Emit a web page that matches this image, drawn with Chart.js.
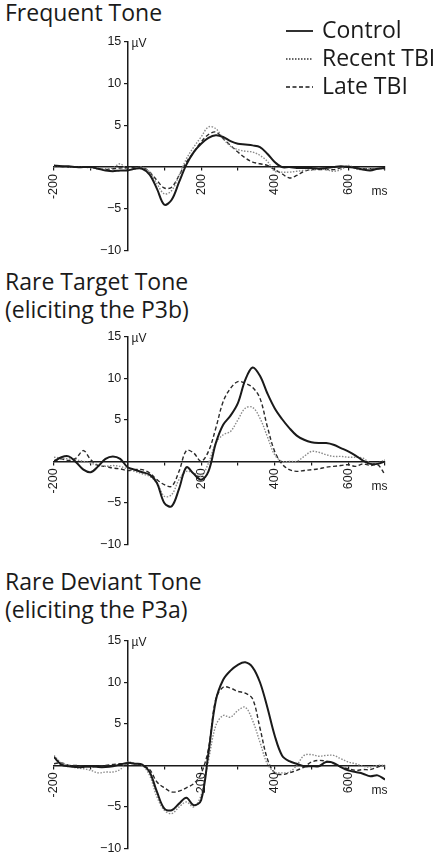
<!DOCTYPE html>
<html>
<head>
<meta charset="utf-8">
<script src="https://cdn.jsdelivr.net/npm/chart.js@4.4.1/dist/chart.umd.min.js"></script>
<style>
  html, body { margin: 0; padding: 0; background: #fff; }
  body { width: 439px; height: 859px; position: relative; overflow: hidden; font-family: "Open Sans", sans-serif; color: #1a1a1a; }
  .title { position: absolute; left: 5px; font-size: 23px; line-height: 28px; white-space: nowrap; }
  canvas { position: absolute; left: 0; }
  .legend { position: absolute; left: 286px; top: 15px; z-index: 2; font-size: 23px; line-height: 28px; }
  .legend div { display: flex; align-items: center; height: 28px; white-space: nowrap; }
  .legend svg { margin-right: 9px; position: relative; top: 2px; }
</style>
</head>
<body>
<div class="title" style="top:-2px">Frequent Tone</div>
<div class="title" style="top:267px">Rare Target Tone<br>(eliciting the P3b)</div>
<div class="title" style="top:567px">Rare Deviant Tone<br>(eliciting the P3a)</div>

<div class="legend">
  <div><svg width="27" height="4"><line x1="0" y1="2" x2="27" y2="2" stroke="#1a1a1a" stroke-width="1.8"/></svg>Control</div>
  <div><svg width="27" height="4"><line x1="0" y1="2" x2="27" y2="2" stroke="#333" stroke-width="1.3" stroke-dasharray="1.5 1.5"/></svg>Recent TBI</div>
  <div><svg width="27" height="4"><line x1="0" y1="2" x2="27" y2="2" stroke="#1a1a1a" stroke-width="1.4" stroke-dasharray="4 2.5"/></svg>Late TBI</div>
</div>

<canvas id="freq" width="439" height="240" style="top:30px"></canvas>
<canvas id="target" width="439" height="230" style="top:325px"></canvas>
<canvas id="deviant" width="439" height="230" style="top:629px"></canvas>

<script>
// time points (ms) shared by every curve
const times = [-200, -180, -160, -140, -120, -100, -80, -60, -40, -20,
  0, 20, 40, 60, 80, 100, 120, 140, 160, 180,
  200, 220, 240, 260, 280, 300, 320, 340, 360, 380,
  400, 420, 440, 460, 480, 500, 520, 540, 560, 580,
  600, 620, 640, 660, 680, 700];

const xTickLabels = [-200, 200, 400, 600];
const yTickLabels = [15, 10, 5, -5, -10];

// Frequent Tone (µV)
const freqControl = [0.2, 0.1, 0.1, 0, 0, 0, -0.2, -0.4, -0.5, -0.4,
  -0.4, -0.2, -0.2, -0.9, -2.6, -4.5, -3.9, -1.8, 0.3, 1.8,
  2.8, 3.5, 3.8, 3.6, 3.1, 2.8, 2.7, 2.6, 2.4, 1.6,
  0.6, 0, 0, -0.1, -0.1, -0.1, -0.2, -0.1, 0, 0.1,
  0, -0.1, -0.3, -0.4, -0.2, -0.1];
const freqRecent = [0.1, 0.1, 0, 0, 0, -0.1, -0.2, -0.2, -0.1, 0.4,
  -0.3, -0.2, 0, -0.6, -2.0, -3.2, -2.8, -1.0, 1.0, 2.4,
  3.6, 4.8, 4.6, 3.4, 2.5, 2.1, 1.9, 1.8, 1.4, 0.7,
  -0.5, -0.6, -0.6, -0.5, -0.4, -0.3, -0.2, -0.3, -0.5, -0.3,
  0.2, -0.2, -0.3, -0.2, -0.2, -0.2];
const freqLate = [0.2, 0.1, 0, 0, 0, 0, -0.2, -0.3, -0.2, -0.1,
  -0.1, 0, 0, -0.6, -1.6, -2.5, -2.4, -1.0, 0.6, 1.8,
  3.0, 3.9, 4.2, 3.4, 2.6, 1.8, 1.1, 0.6, 0.4, 0.2,
  -0.3, -0.8, -1.3, -1.0, -0.5, -0.3, -0.3, -0.3, -0.3, -0.1,
  0.1, -0.1, -0.2, -0.2, -0.2, -0.1];

// Rare Target Tone (µV)
const targetControl = [0, 0.5, 0.6, -0.1, -1.0, -1.3, -0.6, 0.3, 0.6, 0.3,
  -0.7, -1.0, -1.3, -1.6, -2.6, -5.0, -5.4, -3.3, -0.7, -1.5,
  -2.2, -1.2, 2.2, 4.4, 5.5, 7.0, 9.8, 11.3, 10.3, 8.2,
  6.4, 5.1, 4.0, 3.1, 2.6, 2.3, 2.2, 2.2, 2.0, 1.6,
  1.2, 0.7, 0.1, -0.3, -0.3, 0];
const targetRecent = [0.5, 0.4, 0.3, 0.2, 0, -0.2, -0.5, -0.6, -0.5, -0.6,
  -0.9, -1.2, -1.5, -1.8, -2.6, -4.2, -4.0, -2.2, -1.2, -1.4,
  -1.8, -0.2, 2.2, 3.2, 3.6, 5.0, 6.4, 6.5, 5.2, 3.0,
  0.8, 0, 0, 0, 0.6, 1.2, 1.1, 0.8, 0.6, 0.6,
  0.5, 0.5, 0.4, -0.2, -0.2, 0.2];
const targetLate = [0.1, 0.3, 0.1, 0.4, 1.3, 0.2, -0.5, -0.6, -0.8, -0.9,
  -1.1, -1.0, -1.0, -1.4, -2.2, -2.8, -3.0, -1.2, 1.3, 1.0,
  0, 1.2, 4.0, 7.2, 8.8, 9.6, 9.4, 8.9, 7.6, 4.2,
  1.2, -0.3, -1.0, -1.2, -1.1, -1.0, -0.9, -0.7, -0.6, -0.5,
  -0.4, -0.6, -0.3, -0.5, -0.4, -1.6];

// Rare Deviant Tone (µV)
const deviantControl = [1.0, 0.1, -0.1, -0.2, -0.2, -0.1, -0.2, -0.2, -0.1, 0.1,
  0.3, 0.2, 0.1, -0.8, -3.2, -5.2, -5.4, -4.6, -3.9, -4.8,
  -4.2, 1.5, 7.8, 10.3, 11.4, 12.1, 12.4, 11.8, 10.0, 7.0,
  3.6, 1.2, 0.5, 0.2, -0.1, -0.1, -0.1, 0.4, 0.3, -0.2,
  -0.6, -0.8, -1.0, -1.3, -1.2, -1.7];
const deviantRecent = [1.2, 0.3, 0, -0.3, -0.4, -0.6, -0.9, -0.8, -0.8, -0.5,
  0.4, 0.2, 0, -1.2, -3.8, -5.4, -5.8, -5.0, -4.4, -5.0,
  -3.6, 0.6, 4.8, 6.0, 5.8, 6.6, 7.0, 5.4, 2.8, 0.2,
  -0.8, -0.9, -0.8, 0, 1.2, 1.3, 1.1, 1.2, 1.2, 0.8,
  0.4, 0.2, -0.1, -0.2, 0, 0];
const deviantLate = [0.2, 0.3, 0, 0, -0.1, -0.2, -0.1, 0, 0.1, 0.2,
  0.2, 0.2, 0, -0.5, -2.0, -2.7, -3.2, -3.1, -2.7, -2.2,
  -1.0, 2.0, 8.0, 9.4, 9.3, 8.9, 8.7, 8.0, 4.5, 0.8,
  -0.9, -1.1, -0.9, -0.6, -0.2, 0.4, 0.6, 0.5, 0.2, -0.2,
  -0.4, -0.6, -0.5, -0.5, -0.2, 0];

const ink = '#1a1a1a';
const tickFont = { family: '"Liberation Sans", Arial, sans-serif', size: 12.5 };

const toPoints = vals => times.map((t, i) => ({ x: t, y: vals[i] }));

// µV / ms unit labels sitting on the axes
const unitLabels = {
  id: 'unitLabels',
  afterDraw(chart) {
    const { ctx, scales: { x, y } } = chart;
    ctx.save();
    ctx.fillStyle = ink;
    ctx.font = '12px "Liberation Sans", Arial, sans-serif';
    ctx.textBaseline = 'middle';
    ctx.textAlign = 'left';
    ctx.fillText('\u00b5V', x.getPixelForValue(0) + 4, y.getPixelForValue(15) + 2);
    ctx.textAlign = 'center';
    ctx.fillText('ms', x.getPixelForValue(685), y.getPixelForValue(0) + 25);
    ctx.restore();
  }
};

const makeChart = (id, control, recent, late, pad) => {
  const ctx = document.getElementById(id).getContext('2d');
  return new Chart(ctx, {
    type: 'line',
    data: {
      datasets: [
        { label: 'Control', data: toPoints(control), borderColor: ink, borderWidth: 2, tension: 0.35 },
        { label: 'Recent TBI', data: toPoints(recent), borderColor: '#8a8a8a', borderWidth: 1.4, borderDash: [1.5, 1.5], tension: 0.35 },
        { label: 'Late TBI', data: toPoints(late), borderColor: '#2a2a2a', borderWidth: 1.4, borderDash: [4, 2.5], tension: 0.35 }
      ]
    },
    options: {
      responsive: false,
      animation: false,
      events: [],
      layout: { padding: pad },
      elements: { point: { radius: 0 } },
      plugins: { legend: { display: false }, tooltip: { enabled: false } },
      scales: {
        x: {
          type: 'linear', min: -200, max: 700,
          position: { y: 0 },
          border: { display: true, color: ink, width: 1.5 },
          grid: { drawOnChartArea: false, drawTicks: true, tickLength: 3, color: ink, lineWidth: 1.2 },
          ticks: {
            stepSize: 100, autoSkip: false, minRotation: 90, maxRotation: 90,
            padding: 4, color: ink, font: tickFont,
            callback: v => xTickLabels.includes(v) ? String(v) : ''
          }
        },
        y: {
          type: 'linear', min: -10, max: 15,
          position: { x: 0 },
          border: { display: true, color: ink, width: 1.5 },
          grid: { drawOnChartArea: false, drawTicks: true, tickLength: 3, color: ink, lineWidth: 1.2 },
          ticks: {
            stepSize: 5, color: ink, font: tickFont,
            // an en space keeps the label clear of the axis line
            callback: v => yTickLabels.includes(v) ? String(v).replace('-', '\u2212') + '\u2002' : ''
          }
        }
      }
    },
    plugins: [unitLabels]
  });
};

makeChart('freq', freqControl, freqRecent, freqLate, { left: 54, right: 54, top: 11.7, bottom: 19.3 });
makeChart('target', targetControl, targetRecent, targetLate, { left: 54, right: 54, top: 11.7, bottom: 10 });
makeChart('deviant', deviantControl, deviantRecent, deviantLate, { left: 54, right: 54, top: 11.7, bottom: 9.7 });
</script>
</body>
</html>
